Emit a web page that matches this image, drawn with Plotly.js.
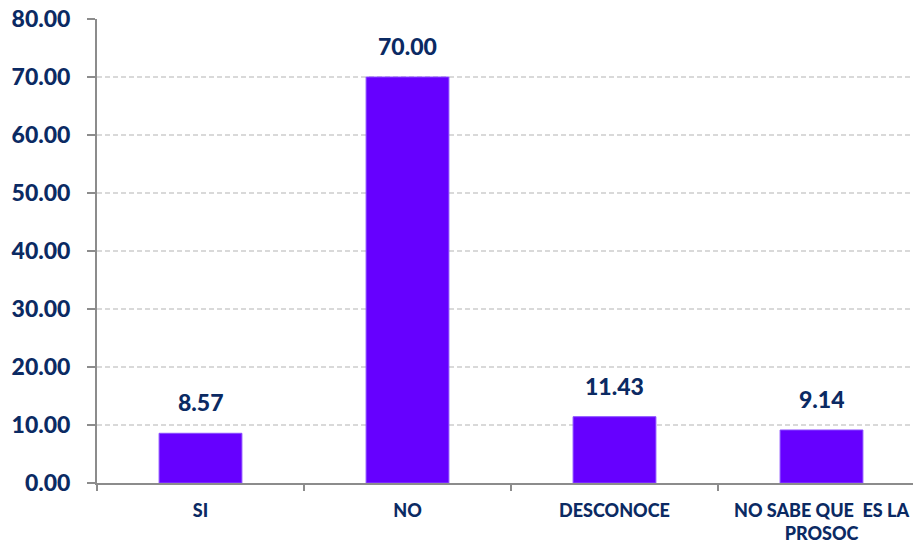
<!DOCTYPE html>
<html>
<head>
<meta charset="utf-8">
<script src="https://cdn.plot.ly/plotly-3.0.1.min.js"></script>
<style>
  html, body { margin: 0; padding: 0; overflow: hidden; background: #fff; }
  #chart { width: 930px; height: 544px; }
</style>
</head>
<body>
<div id="chart"></div>
<script>
// Survey answers (percent of respondents)
const categories = ["SI", "NO", "DESCONOCE", "NO SABE QUE\u00a0 ES LA<br>PROSOC"];
const percents = [8.57, 70.00, 11.43, 9.14];
const yTicks = [0, 10, 20, 30, 40, 50, 60, 70, 80];

const navy = "#0B2A63";
const fontFamily = "Lato, 'Open Sans', sans-serif";

const bars = {
  type: "bar",
  x: categories,
  y: percents,
  marker: { color: "#6600FF", line: { color: "#8A4DFF", width: 1 } },
  hoverinfo: "x+y",
  cliponaxis: false
};

// Value labels sit a little above each bar
const labels = categories.map((c, i) => ({
  x: c,
  y: percents[i],
  text: percents[i].toFixed(2),
  showarrow: false,
  yanchor: "bottom",
  yshift: 15,
  font: { family: fontFamily, size: 23, color: navy, weight: 900 }
}));

const layout = {
  width: 930,
  height: 544,
  margin: { l: 97, r: 5, t: 19, b: 61 },
  paper_bgcolor: "#fff",
  plot_bgcolor: "#fff",
  showlegend: false,
  bargap: 0.6,
  font: { family: fontFamily, color: navy },
  xaxis: {
    type: "category",
    showline: true,
    linecolor: "#8C8C8C",
    linewidth: 2,
    ticks: "outside",
    tickson: "boundaries",
    ticklen: 6,
    tickcolor: "#8C8C8C",
    tickwidth: 2,
    showgrid: false,
    ticklabelstandoff: 10,
    tickfont: { family: fontFamily, size: 18, color: navy, weight: 900 }
  },
  yaxis: {
    range: [0, 80],
    tickvals: yTicks,
    ticktext: yTicks.map(v => v.toFixed(2)),
    showline: true,
    linecolor: "#8C8C8C",
    linewidth: 2,
    ticks: "outside",
    ticklen: 8,
    tickcolor: "#8C8C8C",
    tickwidth: 2,
    showgrid: true,
    gridcolor: "#D9D9D9",
    griddash: "5px,3px",
    gridwidth: 1.5,
    zeroline: false,
    ticklabelstandoff: 12,
    tickfont: { family: fontFamily, size: 23, color: navy, weight: 900 }
  },
  annotations: labels
};

Plotly.newPlot("chart", [bars], layout, { staticPlot: true, displayModeBar: false });
</script>
</body>
</html>
